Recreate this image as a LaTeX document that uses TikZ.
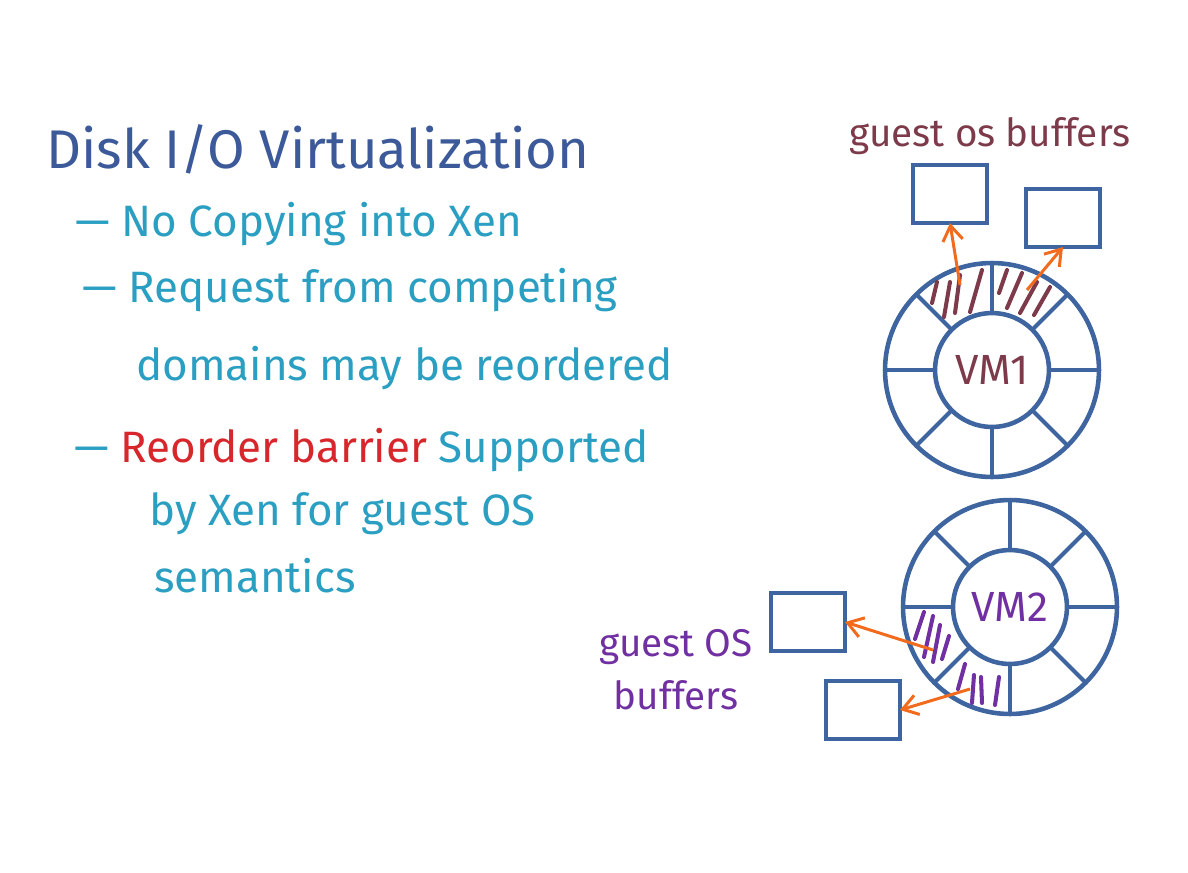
\documentclass[tikz,border=0pt]{standalone}
\usepackage{fontspec}
\setmainfont{Fira Sans}
\usetikzlibrary{positioning,arrows.meta}
\definecolor{titleblue}{HTML}{3C5A99}
\definecolor{itemteal}{HTML}{2B9FC2}
\definecolor{barrierred}{HTML}{D7262C}
\definecolor{vmmaroon}{HTML}{7D3A4B}
\definecolor{vmpurple}{HTML}{7130A2}
\definecolor{arroworange}{HTML}{F26B1D}
\definecolor{ringblue}{HTML}{3E65A0}
\begin{document}
\begin{tikzpicture}[%
    x=0.02cm, y=-0.02cm,        % pixel grid, y runs downwards
    >={Straight Barb[length=3mm,width=4mm]},
    font=\fontsize{25}{30}\selectfont,
    ]
% -------------------------------------------------
% Styles for rings, buffers and text
\tikzset{
ring/.style={draw=ringblue, line width=2.6pt, circle, inner sep=0pt, outer sep=0pt, minimum size=4.28cm},
hub/.style={ring, minimum size=2.28cm, font=\fontsize{24}{26}\selectfont},
spoke/.style={draw=ringblue, line width=2.3pt},
buffer/.style={draw=ringblue, line width=2.6pt, rectangle, inner sep=0pt, outer sep=0pt, minimum width=1.48cm, minimum height=1.16cm},
item/.style={anchor=base west, text=itemteal},
hatch/.style={line width=2.3pt, line cap=round},
copy/.style={->, draw=arroworange, line width=1.7pt},
label/.style={font=\fontsize{22}{30}\selectfont, align=center},
}
\useasboundingbox (0,0) rectangle (1188,873);

% -------------------------------------------------
% Notes on the left
\node [item, text=titleblue, font=\fontsize{31}{34}\selectfont] (title) at (40,168) {Disk I/O Virtualization};
\node [item] (nocopy)    at (69,236) {\textemdash\ No Copying into Xen};
\node [item] (request)   at (76,302) {\textemdash\ Request from competing};
\node [item] (domains)   at (130,380) {domains may be reordered};
\node [item] (barrier)   at (68,462) {\textemdash\ \textcolor{barrierred}{Reorder barrier} Supported};
\node [item] (byxen)     at (143,525) {by Xen for guest OS};
\node [item] (semantics) at (148,592) {semantics};

% -------------------------------------------------
% VM1 ring with its buffers
\node [ring] (ring1) at (992,370) {};
\node [hub, text=vmmaroon] (vm1) at (ring1) {VM1};
\foreach \a in {0,45,...,315}
    \draw [spoke] (vm1.\a) -- (ring1.\a);
\begin{scope}[shift={(ring1.center)}, hatch, draw=vmmaroon]
    \draw (-60,-67) -- (-55,-88);
    \draw (-48,-53) -- (-42,-88);
    \draw (-37,-57) -- (-32,-95);
    \draw (-22,-58) -- (-10,-100);
    \draw (7,-77) -- (15,-100);
    \draw (15,-62) -- (30,-97);
    \draw (28,-57) -- (45,-88);
    \draw (42,-55) -- (58,-83);
\end{scope}
\node [buffer] (buf1) at (950,194) {};
\node [buffer] (buf2) at (1063,218) {};
\node [label, text=vmmaroon] (label1) at (990,136) {guest os buffers};
\coordinate (src1) at ([shift={(-32,-85)}]ring1.center);
\coordinate (src2) at ([shift={(35,-80)}]ring1.center);
\draw [copy] (src1) -- (buf1.south);
\draw [copy] (src2) -- (buf2.south);

% -------------------------------------------------
% VM2 ring with its buffers
\node [ring] (ring2) at (1010,607) {};
\node [hub, text=vmpurple] (vm2) at (ring2) {VM2};
\foreach \a in {0,45,...,315}
    \draw [spoke] (vm2.\a) -- (ring2.\a);
\begin{scope}[shift={(ring2.center)}, hatch, draw=vmpurple]
    \draw (-95,32) -- (-86,5);
    \draw (-86,50) -- (-77,9);
    \draw (-77,55) -- (-70,18);
    \draw (-68,52) -- (-61,29);
    \draw (-52,82) -- (-45,57);
    \draw (-38,96) -- (-36,68);
    \draw (-28,96) -- (-29,70);
    \draw (-15,98) -- (-11,70);
\end{scope}
\node [buffer] (buf3) at (808,622) {};
\node [buffer] (buf4) at (863,710) {};
\node [label, text=vmpurple] (label2) at (676,670) {guest OS\\buffers};
\coordinate (src3) at ([shift={(-77,43)}]ring2.center);
\coordinate (src4) at ([shift={(-40,82)}]ring2.center);
\draw [copy] (src3) -- (buf3.east);
\draw [copy] (src4) -- (buf4.east);

\end{tikzpicture}
\end{document}
